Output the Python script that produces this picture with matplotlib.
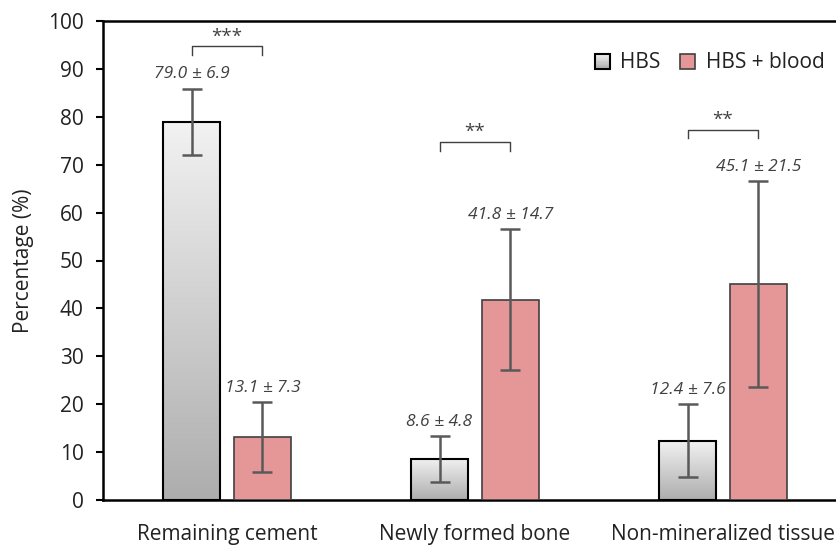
import numpy as np
import matplotlib
matplotlib.use("Agg")
import matplotlib.pyplot as plt
from matplotlib.patches import Rectangle
from matplotlib.legend_handler import HandlerBase
from matplotlib.colors import LinearSegmentedColormap

categories = ["Remaining cement", "Newly formed bone", "Non-mineralized tissue"]
hbs_mean = [79.0, 8.6, 12.4]
hbs_sd = [6.9, 4.8, 7.6]
blood_mean = [13.1, 41.8, 45.1]
blood_sd = [7.3, 14.7, 21.5]
series_names = ["HBS", "HBS + blood"]
sig_labels = ["***", "**", "**"]
sig_heights = [92.9, 72.9, 75.5]

plt.rcParams['font.family'] = ['Open Sans', 'DejaVu Sans']
TXT = '#404040'

fig = plt.figure(figsize=(8.36, 5.48), dpi=100)
ax = fig.add_axes([103/836, 48/548, 744/836, 479/548])

x = np.arange(len(categories))
off = 0.143
w = 0.23
cmap = LinearSegmentedColormap.from_list('g', ['#F2F2F2', '#ADADAD'])

bars_h = ax.bar(x - off, hbs_mean, w, facecolor='none', edgecolor='black', linewidth=1.5, zorder=3)
for b in bars_h:
    x0, y0 = b.get_x(), b.get_y()
    bw, bh = b.get_width(), b.get_height()
    grad = np.linspace(0, 1, 256).reshape(-1, 1)
    im = ax.imshow(grad, extent=[x0, x0 + bw, y0, y0 + bh], origin='upper',
                   cmap=cmap, aspect='auto', zorder=2)
    im.set_clip_path(b)
bars_b = ax.bar(x + off, blood_mean, w, color='#E59797', edgecolor='#404040', linewidth=1.2, zorder=3)

ekw = dict(fmt='none', ecolor='#595959', elinewidth=1.8, capsize=7, capthick=1.8, zorder=4)
ax.errorbar(x - off, hbs_mean, yerr=hbs_sd, **ekw)
ax.errorbar(x + off, blood_mean, yerr=blood_sd, **ekw)

for xi, m, s in zip(x - off, hbs_mean, hbs_sd):
    ax.text(xi, m + s + 1.3, f"{m:.1f} ± {s:.1f}", ha='center', va='bottom',
            fontsize=12.5, style='italic', color=TXT)
for xi, m, s in zip(x + off, blood_mean, blood_sd):
    ax.text(xi, m + s + 1.3, f"{m:.1f} ± {s:.1f}", ha='center', va='bottom',
            fontsize=12.5, style='italic', color=TXT)

for xi, lab, hgt in zip(x, sig_labels, sig_heights):
    xl, xr = xi - off, xi + off
    ax.plot([xl, xl, xr, xr], [hgt, hgt + 1.8, hgt + 1.8, hgt], color='#404040', lw=1.0, zorder=4)
    ax.text(xi, hgt + 2.0, lab, ha='center', va='bottom', fontsize=13.5, color=TXT)

ax.set_xlim(-0.5, 2.5)
ax.set_ylim(0, 100)
ax.set_yticks(np.arange(0, 101, 10))
ax.set_xticks(x)
ax.set_xticklabels(categories, fontsize=15, color='#222222')
ax.tick_params(axis='y', labelsize=15, labelcolor='#222222', direction='out', length=5, width=1.5, pad=9)
ax.tick_params(axis='x', length=0, pad=17)
for sp in ax.spines.values():
    sp.set_linewidth(1.8)
    sp.set_color('black')
ax.set_ylabel("Percentage (%)", fontsize=15, color='#222222', labelpad=10)


class GradHandler(HandlerBase):
    def create_artists(self, legend, orig_handle, xdescent, ydescent, width, height, fontsize, trans):
        arts = []
        n = 12
        side = height * 1.05
        x0 = xdescent + (width - side) / 2
        y0 = -ydescent - (side - height) / 2
        for i in range(n):
            c = cmap(1 - i / (n - 1))
            arts.append(Rectangle((x0, y0 + i * side / n), side, side / n + 0.2,
                                  facecolor=c, edgecolor='none', transform=trans))
        arts.append(Rectangle((x0, y0), side, side, facecolor='none', edgecolor='black', lw=1.5, transform=trans))
        return arts


class SqHandler(HandlerBase):
    def create_artists(self, legend, orig_handle, xdescent, ydescent, width, height, fontsize, trans):
        side = height * 1.05
        x0 = xdescent + (width - side) / 2
        y0 = -ydescent - (side - height) / 2
        return [Rectangle((x0, y0), side, side, facecolor='#E59797', edgecolor='#404040', lw=1.2, transform=trans)]


h1 = Rectangle((0, 0), 1, 1)
h2 = Rectangle((0, 0), 1, 1)
leg = fig.legend([h1, h2], series_names, handler_map={h1: GradHandler(), h2: SqHandler()},
                 loc='center left', bbox_to_anchor=(586/836, 1 - 63/548), ncol=2, frameon=False,
                 fontsize=15, handlelength=0.8, handletextpad=0.45, columnspacing=0.9, borderaxespad=0)
for t in leg.get_texts():
    t.set_color('#222222')

fig.savefig("out.png", dpi=100)
